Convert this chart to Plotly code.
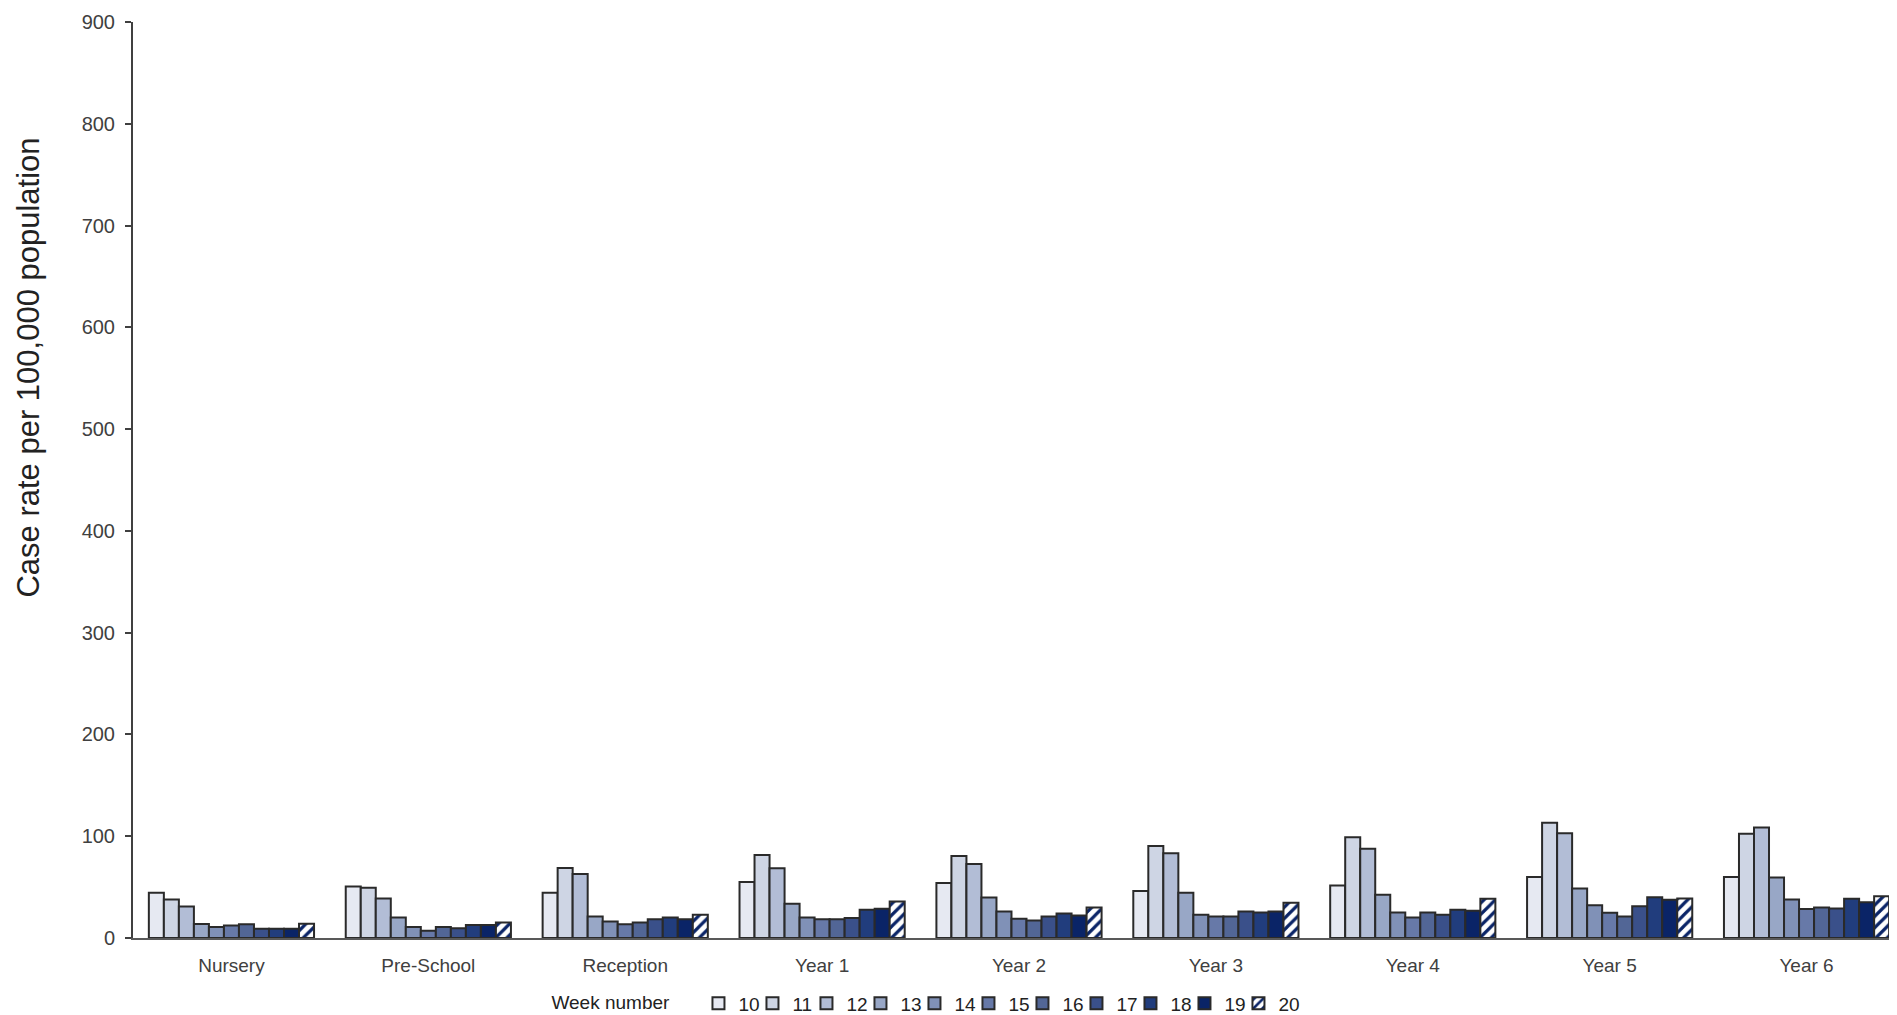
import plotly.graph_objects as go

categories = ["Nursery", "Pre-School", "Reception", "Year 1", "Year 2",
              "Year 3", "Year 4", "Year 5", "Year 6"]
weeks = ["10", "11", "12", "13", "14", "15", "16", "17", "18", "19", "20"]

wk10 = [44.4, 50.5, 44.4, 55.1, 54.1, 46.3, 51.5, 60.0, 60.0]
wk11 = [37.8, 49.3, 68.8, 81.5, 80.6, 90.3, 99.1, 113.2, 102.4]
wk12 = [31.0, 38.8, 62.9, 68.5, 72.7, 83.2, 87.7, 103.0, 108.6]
wk13 = [13.7, 20.2, 21.2, 33.6, 39.8, 44.4, 42.4, 48.6, 59.4]
wk14 = [10.8, 10.8, 16.3, 20.2, 26.1, 22.8, 25.1, 32.3, 37.8]
wk15 = [12.4, 7.2, 13.4, 18.3, 18.9, 21.2, 20.2, 24.8, 28.4]
wk16 = [13.4, 10.8, 15.3, 18.3, 17.3, 21.2, 25.1, 21.2, 30.0]
wk17 = [9.1, 9.5, 18.3, 19.6, 21.2, 26.1, 22.8, 31.3, 29.0]
wk18 = [9.1, 12.7, 20.2, 27.7, 24.1, 25.1, 27.7, 40.1, 38.5]
wk19 = [9.1, 12.7, 18.3, 28.7, 22.2, 26.1, 26.7, 37.5, 35.2]
wk20 = [14.0, 15.3, 22.8, 35.9, 30.0, 34.6, 38.5, 38.8, 41.1]

series = [wk10, wk11, wk12, wk13, wk14, wk15, wk16, wk17, wk18, wk19, wk20]
colors = ["#E6E9F2", "#CED5E4", "#B2BDD6", "#98A7C6", "#8091B7", "#6779A8",
          "#526696", "#3A508A", "#213D7D", "#0A2467", "#FFFFFF"]

FONT = "Liberation Sans, Arial, sans-serif"
TXT = "#404040"

fig = go.Figure()
for i, (name, vals) in enumerate(zip(weeks, series)):
    marker = dict(color=colors[i], line=dict(color="#2a2a2a", width=2))
    extra = {}
    if name == "20":
        marker["pattern"] = dict(shape="/", fgcolor="#0A2467", bgcolor="#FFFFFF",
                                 size=8, solidity=0.4, fillmode="replace")
        extra["legendwidth"] = 26
    fig.add_trace(go.Bar(x=categories, y=vals, name=name, marker=marker, **extra))

fig.update_layout(
    width=1897, height=1015,
    margin=dict(l=125, r=0, t=14, b=77),
    paper_bgcolor="white", plot_bgcolor="white",
    barmode="group", bargap=0.161, bargroupgap=0,
    font=dict(family=FONT, color=TXT, size=19),
    legend=dict(
        orientation="h", x=0.235, xanchor="left", y=-0.0715, yanchor="middle",
        title=dict(text="Week number\u00a0\u00a0\u00a0\u00a0", side="left",
                   font=dict(size=19, color="#222")),
        font=dict(size=19, color="#222"),
        entrywidth=9, entrywidthmode="pixels",
        bgcolor="rgba(0,0,0,0)",
    ),
    showlegend=True,
    annotations=[dict(
        text="Case rate per 100,000 population", textangle=-90,
        xref="paper", yref="paper", x=-0.0587, y=0.6227,
        xanchor="center", yanchor="middle", showarrow=False,
        font=dict(size=31, color="#222", family=FONT),
    )],
)
fig.update_xaxes(
    type="category", range=[-0.5, 8.5],
    showline=True, linecolor="#595959", linewidth=2,
    ticks="", showgrid=False, zeroline=False,
    tickfont=dict(size=19, color=TXT), ticklabelstandoff=9,
)
fig.update_yaxes(
    range=[0, 900], dtick=100, tick0=0,
    showline=True, linecolor="#404040", linewidth=2,
    ticks="outside", ticklen=6, tickwidth=2, tickcolor="#404040",
    showgrid=False, zeroline=False,
    tickfont=dict(size=20, color=TXT), ticklabelstandoff=6,
    automargin=False,
)

fig.write_html("out.html")
